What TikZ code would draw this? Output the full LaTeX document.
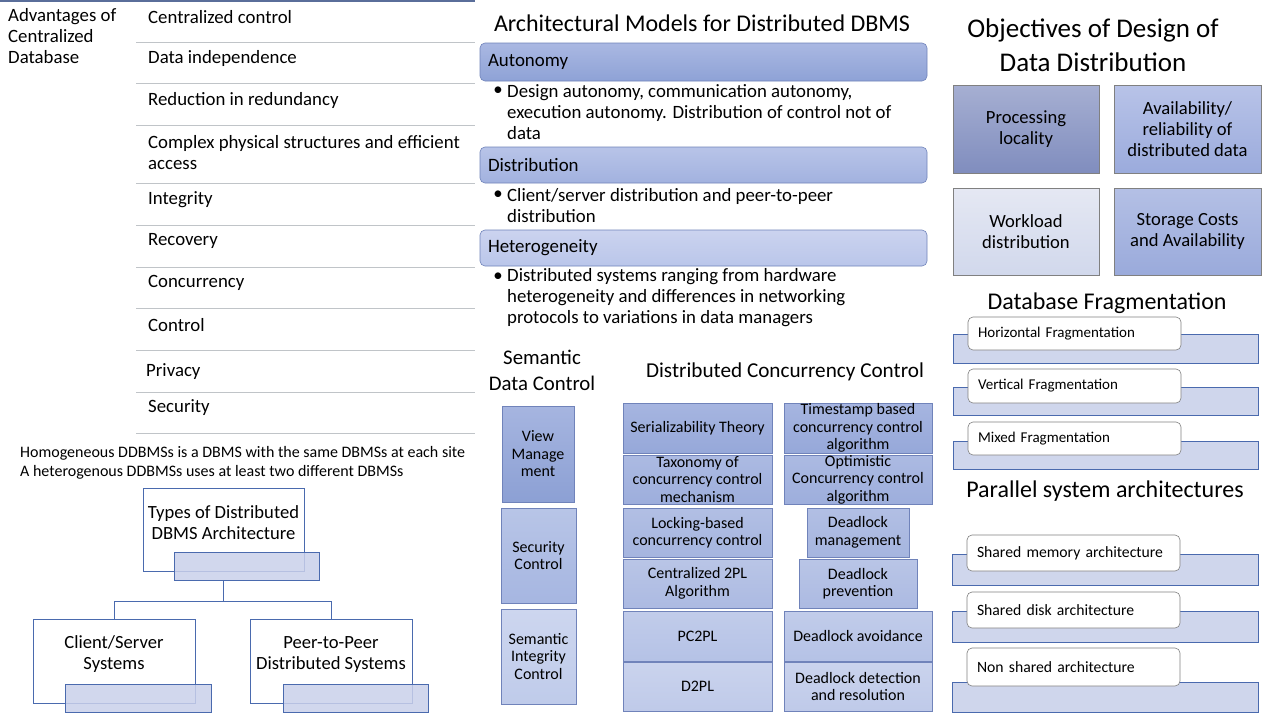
\documentclass[tikz,border=0pt]{standalone}
\usepackage{fontspec}
\setmainfont{Carlito}
\usetikzlibrary{calc}
\newcommand\szItem{\fontsize{18.8}{21}\selectfont}
\newcommand\szHom{\fontsize{16}{19}\selectfont}
\newcommand\szBox{\fontsize{18.6}{21}\selectfont}
\newcommand\szBar{\fontsize{18.9}{21}\selectfont}
\newcommand\szBul{\fontsize{18.8}{21}\selectfont}
\newcommand\szTitle{\fontsize{24}{28}\selectfont}
\newcommand\szBig{\fontsize{27}{34}\selectfont}
\newcommand\szSmall{\fontsize{16}{17.5}\selectfont}
\newcommand\szPar{\fontsize{15.7}{18}\selectfont}
\newcommand\szFrag{\fontsize{15}{17}\selectfont}
\definecolor{sepgrey}{HTML}{C0C4C8}
\definecolor{topline}{HTML}{5A6E9A}
\definecolor{treeblue}{HTML}{4A6AAE}
\definecolor{barfill}{HTML}{C9D0EA}
\definecolor{backfill}{HTML}{CFD6EC}
\definecolor{boxborder}{HTML}{7083BA}
\definecolor{greyborder}{HTML}{808080}
\begin{document}
\begin{tikzpicture}[x=1pt,y=-1pt,
  every node/.style={inner sep=0pt, text=black},
  item/.style={anchor=west, font=\szItem, align=left},
  sep/.style={draw=sepgrey, line width=0.8pt},
  treebox/.style={draw=treeblue, line width=0.8pt, fill=white},
  treebar/.style={draw=treeblue, line width=0.8pt, fill=barfill, fill opacity=0.85},
  conn/.style={draw=treeblue, line width=0.8pt},
  bar/.style={draw=boxborder, line width=0.6pt, rounded corners=5pt, font=\szBar, align=left, inner xsep=8pt},
  bul/.style={anchor=west, font=\szBul, align=left},
  objbox/.style={draw=greyborder, line width=0.6pt, font=\szBox, align=center},
  dcc/.style={draw=boxborder, line width=0.6pt, font=\szSmall, align=center},
  back/.style={draw=treeblue, line width=0.8pt, fill=backfill},
  front/.style={draw=greyborder, line width=0.6pt, fill=white, rounded corners=5pt, align=left, inner xsep=10pt},
]
\useasboundingbox[fill=white] (0,0) rectangle (1280,720);

% ---------- Left: advantages list ----------
\draw[topline, line width=1.6pt] (0,0.8) -- (475,0.8);
\node[anchor=west, font=\szItem, align=left] (adv) at (8,36) {Advantages of\\Centralized\\Database};
\foreach \y in {42,83,125,183,225,267,308,350,392,433}
  \draw[sep] (136,\y) -- (475,\y);
\node[item] (i1) at (148,17) {Centralized control};
\node[item] (i2) at (148,58) {Data independence};
\node[item] (i3) at (148,100) {Reduction in redundancy};
\node[item] (i4) at (148,152.5) {Complex physical structures and efficient\\access};
\node[item] (i5) at (148,200) {Integrity};
\node[item] (i6) at (148,241) {Recovery};
\node[item] (i7) at (148,283) {Concurrency};
\node[item] (i8) at (148,325) {Control};
\node[item] (i9) at (146,372) {Privacy};
\node[item] (i10) at (148,408) {Security};

% ---------- Homogeneous text ----------
\node[anchor=west, font=\szHom, align=left] (hom) at (20,462.5) {Homogeneous DDBMSs is a DBMS with the same DBMSs at each site\\A heterogenous DDBMSs uses at least two different DBMSs};

% ---------- Types tree ----------
\node[treebox, minimum width=161pt, minimum height=83pt] (types) at (223.5,529.5) {};
\node[font=\szBox, align=center] (typesT) at (223.5,522.5) {Types of Distributed\\DBMS Architecture};
\node[treebar, minimum width=145pt, minimum height=28pt] (tbar) at (246.5,566) {};
\node[treebox, minimum width=162pt, minimum height=84pt] (cs) at (114,661) {};
\node[font=\szBox, align=center] (csT) at (114,654.5) {Client/Server\\Systems};
\node[treebar, minimum width=146pt, minimum height=28pt] (csbar) at (138,698) {};
\node[treebox, minimum width=162pt, minimum height=84pt] (pp) at (331,661) {};
\node[font=\szBox, align=center] (ppT) at (331,654.5) {Peer-to-Peer\\Distributed Systems};
\node[treebar, minimum width=145pt, minimum height=28pt] (ppbar) at (355.5,698) {};
\draw[conn] (types.center |- tbar.south) -- ++(0,21) coordinate (j);
\draw[conn] (j) -| (cs.north);
\draw[conn] (j) -| (pp.north);

% ---------- Architectural models ----------
\node[font=\szTitle] (amt) at (702,23) {Architectural Models for Distributed DBMS};
\node[bar, minimum width=447pt, minimum height=38pt, text width=431pt, top color={rgb,255:red,170;green,184;blue,226}, bottom color={rgb,255:red,142;green,162;blue,214}] (aut) at (703.5,62) {Autonomy};
\node[font=\szBul] (bu1) at (498,91) {•};
\node[bul] (t1) at (507,112) {Design autonomy, communication autonomy,\\execution autonomy. Distribution of control not of\\data};
\node[bar, minimum width=447pt, minimum height=36pt, text width=431pt, top color={rgb,255:red,184;green,196;blue,232}, bottom color={rgb,255:red,162;green,178;blue,223}] (dis) at (703.5,165) {Distribution};
\node[font=\szBul] (bu2) at (498,195) {•};
\node[bul] (t2) at (507,205.5) {Client/server distribution and peer-to-peer\\distribution};
\node[bar, minimum width=447pt, minimum height=36pt, text width=431pt, top color={rgb,255:red,203;green,211;blue,239}, bottom color={rgb,255:red,186;green,198;blue,234}] (het) at (703.5,248) {Heterogeneity};
\node[font=\szBul] (bu3) at (498,277) {•};
\node[bul] (t3) at (507,298) {Distributed systems ranging from hardware\\heterogeneity and differences in networking\\protocols to variations in data managers};

% ---------- Objectives ----------
\node[font=\szBig, align=center] (objt) at (1093,45) {Objectives of Design of\\Data Distribution};
\node[objbox, minimum width=146pt, minimum height=88pt, top color={rgb,255:red,166;green,175;blue,210}, bottom color={rgb,255:red,128;green,141;blue,190}] (o1) at (1026,129) {Processing\\locality};
\node[objbox, minimum width=147pt, minimum height=88pt, top color={rgb,255:red,184;green,195;blue,232}, bottom color={rgb,255:red,155;green,171;blue,220}] (o2) at (1187.5,129) {Availability/\\reliability of\\distributed data};
\node[objbox, minimum width=146pt, minimum height=87pt, top color={rgb,255:red,229;green,232;blue,243}, bottom color={rgb,255:red,209;green,216;blue,236}] (o3) at (1026,231.5) {Workload\\distribution};
\node[objbox, minimum width=147pt, minimum height=87pt, top color={rgb,255:red,180;green,192;blue,229}, bottom color={rgb,255:red,154;green,170;blue,219}] (o4) at (1187.5,231.5) {Storage Costs\\and Availability};

% ---------- Database fragmentation ----------
\node[font=\szTitle] (dft) at (1107,303) {Database Fragmentation};
\node[back, minimum width=305pt, minimum height=29pt] (fb1) at (1105.5,348.5) {};
\node[front, minimum width=213pt, minimum height=33pt, text width=193pt, font=\szFrag] (f1) at (1074.5,333.5) {Horizontal Fragmentation};
\node[back, minimum width=305pt, minimum height=28pt] (fb2) at (1105.5,401) {};
\node[front, minimum width=213pt, minimum height=34pt, text width=193pt, font=\szFrag] (f2) at (1074.5,386) {Vertical Fragmentation};
\node[back, minimum width=305pt, minimum height=28pt] (fb3) at (1105.5,455) {};
\node[front, minimum width=213pt, minimum height=33pt, text width=193pt, font=\szFrag] (f3) at (1074.5,438.5) {Mixed Fragmentation};

% ---------- Parallel system architectures ----------
\node[font=\szTitle] (pst) at (1105,491) {Parallel system architectures};
\node[back, minimum width=306pt, minimum height=31pt] (pb1) at (1105,569.5) {};
\node[front, minimum width=213pt, minimum height=36pt, text width=193pt, font=\szPar] (p1) at (1073.5,553) {Shared memory architecture};
\node[back, minimum width=306pt, minimum height=31pt] (pb2) at (1105,626.5) {};
\node[front, minimum width=213pt, minimum height=36pt, text width=193pt, font=\szPar] (p2) at (1073.5,610) {Shared disk architecture};
\node[back, minimum width=306pt, minimum height=30pt] (pb3) at (1105,697) {};
\node[front, minimum width=213pt, minimum height=38pt, text width=193pt, font=\szPar] (p3) at (1073.5,667) {Non shared architecture};

% ---------- Semantic data control ----------
\node[font=\fontsize{20.8}{26}\selectfont, align=center] (sdt) at (542,370) {Semantic\\Data Control};
\node[dcc, minimum width=72pt, minimum height=96pt, top color={rgb,255:red,166;green,181;blue,224}, bottom color={rgb,255:red,140;green,160;blue,212}] (s1) at (538,454) {View\\Manage\\ment};
\node[dcc, minimum width=75pt, minimum height=95pt, top color={rgb,255:red,184;green,197;blue,231}, bottom color={rgb,255:red,166;green,182;blue,225}] (s2) at (538.5,555.5) {Security\\Control};
\node[dcc, minimum width=75pt, minimum height=95pt, top color={rgb,255:red,205;green,214;blue,239}, bottom color={rgb,255:red,191;green,203;blue,234}] (s3) at (538.5,656.5) {Semantic\\Integrity\\Control};

% ---------- Distributed concurrency control ----------
\node[font=\fontsize{21.2}{24}\selectfont] (dcct) at (785,372) {Distributed Concurrency Control};
\tikzset{
  r1/.style={top color={rgb,255:red,166;green,181;blue,224}, bottom color={rgb,255:red,150;green,168;blue,217}},
  r2/.style={top color={rgb,255:red,172;green,186;blue,226}, bottom color={rgb,255:red,157;green,174;blue,220}},
  r3/.style={top color={rgb,255:red,178;green,191;blue,228}, bottom color={rgb,255:red,165;green,181;blue,223}},
  r4/.style={top color={rgb,255:red,185;green,197;blue,230}, bottom color={rgb,255:red,172;green,186;blue,226}},
  r5/.style={top color={rgb,255:red,193;green,204;blue,234}, bottom color={rgb,255:red,181;green,194;blue,230}},
  r6/.style={top color={rgb,255:red,202;green,211;blue,237}, bottom color={rgb,255:red,191;green,202;blue,233}},
}
\node[dcc, r1, minimum width=149pt, minimum height=50pt] (c1) at (697.5,428) {Serializability Theory};
\node[dcc, r2, minimum width=149pt, minimum height=49pt] (c2) at (697.5,479.5) {Taxonomy of\\concurrency control\\mechanism};
\node[dcc, r3, minimum width=149pt, minimum height=49pt] (c3) at (697.5,532.5) {Locking-based\\concurrency control};
\node[dcc, r4, minimum width=149pt, minimum height=49pt] (c4) at (697.5,583.5) {Centralized 2PL\\Algorithm};
\node[dcc, r5, minimum width=149pt, minimum height=50pt] (c5) at (697.5,636) {PC2PL};
\node[dcc, r6, minimum width=149pt, minimum height=49pt] (c6) at (697.5,686.5) {D2PL};
\node[dcc, r1, minimum width=148pt, minimum height=50pt] (d1) at (858,428) {Timestamp based\\concurrency control\\algorithm};
\node[dcc, r2, minimum width=148pt, minimum height=49pt] (d2) at (858,479.5) {Optimistic\\Concurrency control\\algorithm};
\node[dcc, r3, minimum width=102pt, minimum height=49pt] (d3) at (858,532.5) {Deadlock\\management};
\node[dcc, r4, minimum width=118pt, minimum height=49pt] (d4) at (858,583.5) {Deadlock\\prevention};
\node[dcc, r5, minimum width=148pt, minimum height=50pt] (d5) at (858,636) {Deadlock avoidance};
\node[dcc, r6, minimum width=148pt, minimum height=49pt] (d6) at (858,686.5) {Deadlock detection\\and resolution};
\end{tikzpicture}
\end{document}
